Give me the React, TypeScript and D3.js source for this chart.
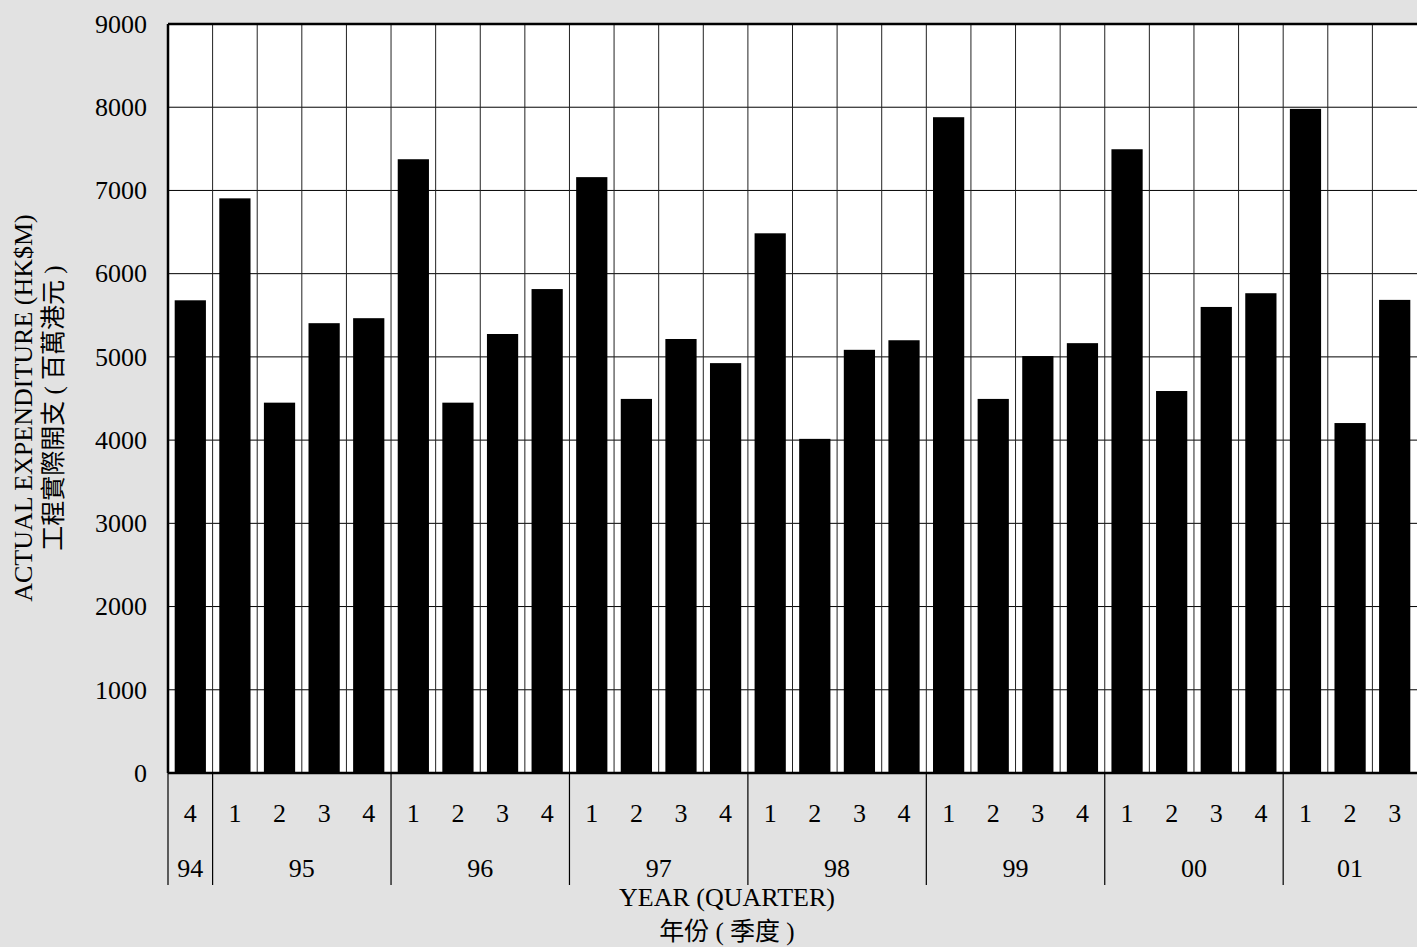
import * as d3 from "d3";
import { useRef, useEffect } from "react";

const width = 1417;
const height = 947;
const marginTop = 24;
const marginLeft = 168;
const plotRight = 1417;
const plotBottom = 773;

const years = ["94", "95", "96", "97", "98", "99", "00", "01"];
const quartersPerYear = [[4], [1, 2, 3, 4], [1, 2, 3, 4], [1, 2, 3, 4], [1, 2, 3, 4], [1, 2, 3, 4], [1, 2, 3, 4], [1, 2, 3]];
const expenditure = [
  5680, 6905, 4450, 5405, 5465, 7375, 4450, 5275, 5815, 7160, 4495, 5215, 4925, 6485, 4015, 5085, 5200,
  7880, 4495, 5010, 5165, 7495, 4590, 5600, 5765, 7980, 4205, 5685,
];
const yTicks = [0, 1000, 2000, 3000, 4000, 5000, 6000, 7000, 8000, 9000];

const serif = "'Liberation Serif', 'Times New Roman', serif";
const cjk = "'Liberation Serif', 'Noto Sans CJK TC', serif";
const fs = 26;

type Bar = { key: string; year: string; quarter: number; value: number };

const bars: Bar[] = [];
years.forEach((yr, i) =>
  quartersPerYear[i].forEach((q) => {
    bars.push({ key: `${yr}-${q}`, year: yr, quarter: q, value: expenditure[bars.length] });
  })
);

const App = () => {
  const gy = useRef<SVGGElement>(null);

  const x = d3
    .scaleBand()
    .domain(bars.map((d) => d.key))
    .range([marginLeft, plotRight])
    .paddingInner(0.3)
    .paddingOuter(0.15)
    .align(0.5);

  const step = x.step();
  const cellStart = (k: string) => (x(k) as number) - (step - x.bandwidth()) / 2;

  const y = d3.scaleLinear().domain([0, 9000]).range([plotBottom, marginTop]);

  useEffect(() => {
    if (!gy.current) return;
    const g = d3.select(gy.current);
    g.call(d3.axisLeft(y).tickValues(yTicks).tickFormat(d3.format("d")).tickSize(0).tickPadding(21))
      .call((s) => s.select(".domain").remove())
      .call((s) =>
        s.selectAll("text").attr("font-family", serif).attr("font-size", fs).attr("fill", "#000")
      );
    return () => {
      g.selectAll("*").remove();
    };
  }, []);

  // year boundaries
  const yearStarts: { year: string; x0: number; x1: number }[] = [];
  years.forEach((yr) => {
    const ks = bars.filter((b) => b.year === yr);
    const x0 = cellStart(ks[0].key);
    const x1 = cellStart(ks[ks.length - 1].key) + step;
    yearStarts.push({ year: yr, x0, x1 });
  });

  return (
    <div style={{ position: "fixed", left: 0, top: 0 }}>
      <svg width={width} height={height} viewBox={`0 0 ${width} ${height}`} style={{ display: "block" }}>
        <rect width={width} height={height} fill="#e2e2e2" />
        <rect x={marginLeft} y={marginTop} width={plotRight - marginLeft} height={plotBottom - marginTop} fill="#fff" />

        {yTicks.map((t) => (
          <line key={t} x1={marginLeft} x2={plotRight} y1={y(t)} y2={y(t)} stroke="#000" strokeWidth={1} />
        ))}
        {bars.slice(1).map((b) => (
          <line
            key={b.key}
            x1={cellStart(b.key)}
            x2={cellStart(b.key)}
            y1={marginTop}
            y2={plotBottom}
            stroke="#222"
            strokeWidth={1}
          />
        ))}

        {bars.map((b) => (
          <rect
            key={b.key}
            x={x(b.key)}
            y={y(b.value)}
            width={x.bandwidth()}
            height={y(0) - y(b.value)}
            fill="#000"
          />
        ))}

        <line x1={marginLeft} x2={plotRight} y1={marginTop} y2={marginTop} stroke="#000" strokeWidth={2.5} />
        <line x1={marginLeft} x2={marginLeft} y1={marginTop} y2={plotBottom} stroke="#000" strokeWidth={2.5} />
        <line x1={marginLeft} x2={plotRight} y1={plotBottom} y2={plotBottom} stroke="#000" strokeWidth={2.5} />

        {yearStarts.map((ys) => (
          <line key={ys.year} x1={ys.x0} x2={ys.x0} y1={plotBottom} y2={885} stroke="#000" strokeWidth={1.2} />
        ))}

        {bars.map((b) => (
          <text
            key={b.key}
            x={cellStart(b.key) + step / 2}
            y={822}
            textAnchor="middle"
            fontFamily={serif}
            fontSize={fs}
          >
            {b.quarter}
          </text>
        ))}
        {yearStarts.map((ys) => (
          <text key={ys.year} x={(ys.x0 + ys.x1) / 2} y={877} textAnchor="middle" fontFamily={serif} fontSize={fs}>
            {ys.year}
          </text>
        ))}

        <g ref={gy} transform={`translate(${marginLeft}, 0)`} />

        <text x={727} y={906} textAnchor="middle" fontFamily={serif} fontSize={fs}>
          YEAR (QUARTER)
        </text>
        <text x={727} y={940} textAnchor="middle" fontFamily={cjk} fontSize={25}>
          年份 ( 季度 )
        </text>

        <text
          transform="translate(32, 408) rotate(-90)"
          textAnchor="middle"
          fontFamily={serif}
          fontSize={fs}
        >
          ACTUAL EXPENDITURE (HK$M)
        </text>
        <text
          transform="translate(62, 408) rotate(-90)"
          textAnchor="middle"
          fontFamily={cjk}
          fontSize={25}
        >
          工程實際開支 ( 百萬港元 )
        </text>
      </svg>
    </div>
  );
};

export default App;
